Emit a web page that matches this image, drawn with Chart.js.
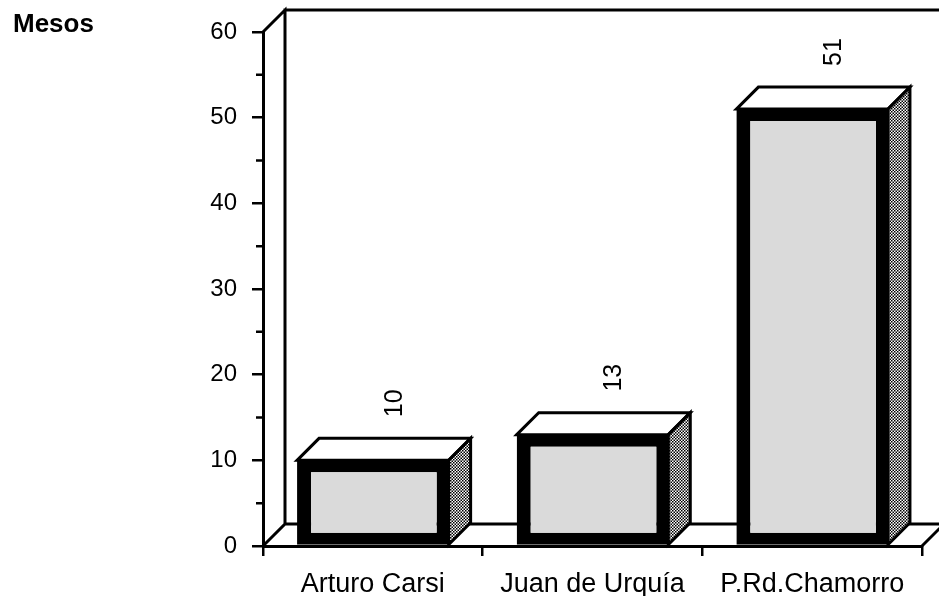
<!DOCTYPE html>
<html>
<head>
<meta charset="utf-8">
<script src="https://cdn.jsdelivr.net/npm/chart.js@4.4.0/dist/chart.umd.min.js"></script>
<style>
  body { margin: 0; background: #fff; }
  canvas { display: block; }
</style>
</head>
<body>
<canvas id="chart" width="939" height="601"></canvas>
<script>
// data
const categories = ["Arturo Carsi", "Juan de Urquía", "P.Rd.Chamorro"];
const meses = [10, 13, 51];
const yMin = 0;
const yMax = 60;
const yStep = 10;
const axisTitle = "Mesos";

const DEPTH = 22; // 3d offset of back wall / bar depth
const FONT = "'Liberation Sans', Arial, sans-serif";

// checker pattern for the bar side faces
function makeDots() {
  const c = document.createElement("canvas");
  c.width = 3;
  c.height = 3;
  const g = c.getContext("2d");
  g.fillStyle = "#fff";
  g.fillRect(0, 0, 3, 3);
  g.fillStyle = "#000";
  g.fillRect(0, 0, 1.5, 1.5);
  g.fillRect(1.5, 1.5, 1.5, 1.5);
  return g.createPattern(c, "repeat");
}

const frame3d = {
  id: "frame3d",
  beforeDatasetsDraw(chart) {
    const { ctx, chartArea: a } = chart;
    const d = DEPTH;
    ctx.save();
    ctx.strokeStyle = "#000";
    ctx.lineWidth = 3;
    ctx.lineCap = "square";
    ctx.beginPath();
    // left wall
    ctx.moveTo(a.left, a.top);
    ctx.lineTo(a.left + d, a.top - d);
    ctx.lineTo(a.left + d, a.bottom - d);
    ctx.moveTo(a.left + d, a.top - d);
    ctx.lineTo(chart.width + 5, a.top - d);
    // floor
    ctx.moveTo(a.left, a.bottom);
    ctx.lineTo(a.left + d, a.bottom - d);
    ctx.lineTo(a.right + d, a.bottom - d);
    ctx.moveTo(a.right, a.bottom);
    ctx.lineTo(a.right + d, a.bottom - d);
    ctx.stroke();

    // minor ticks on the y axis
    const y = chart.scales.y;
    ctx.lineWidth = 2.5;
    ctx.lineCap = "butt";
    ctx.beginPath();
    for (let v = yMin + yStep / 2; v < yMax; v += yStep) {
      const py = y.getPixelForValue(v);
      ctx.moveTo(a.left - 7, py);
      ctx.lineTo(a.left, py);
    }
    ctx.stroke();

    // axis title
    ctx.fillStyle = "#000";
    ctx.font = "bold 26px " + FONT;
    ctx.textBaseline = "alphabetic";
    ctx.fillText(axisTitle, 13, 32);
    ctx.restore();
  },
  afterDatasetsDraw(chart) {
    const { ctx } = chart;
    const d = DEPTH;
    const dots = makeDots();
    const meta = chart.getDatasetMeta(0);
    ctx.save();
    ctx.strokeStyle = "#000";
    ctx.lineWidth = 3;
    ctx.lineJoin = "miter";
    meta.data.forEach((bar, i) => {
      const x0 = bar.x - bar.width / 2;
      const x1 = bar.x + bar.width / 2;
      const top = bar.y;
      const bot = bar.base;
      // top face
      ctx.beginPath();
      ctx.moveTo(x0, top);
      ctx.lineTo(x0 + d, top - d);
      ctx.lineTo(x1 + d, top - d);
      ctx.lineTo(x1, top);
      ctx.closePath();
      ctx.fillStyle = "#fff";
      ctx.fill();
      ctx.stroke();
      // side face
      ctx.beginPath();
      ctx.moveTo(x1, top);
      ctx.lineTo(x1 + d, top - d);
      ctx.lineTo(x1 + d, bot - d);
      ctx.lineTo(x1, bot);
      ctx.closePath();
      ctx.fillStyle = dots;
      ctx.fill();
      ctx.stroke();
      // value label, rotated
      ctx.save();
      ctx.translate(bar.x + d, top - d - 35);
      ctx.rotate(-Math.PI / 2);
      ctx.fillStyle = "#000";
      ctx.font = "25px " + FONT;
      ctx.textAlign = "center";
      ctx.textBaseline = "middle";
      ctx.fillText(String(meses[i]), 0, 0);
      ctx.restore();
    });
    ctx.restore();
  }
};

const ctx = document.getElementById("chart").getContext("2d");
const chart = new Chart(ctx, {
  type: "bar",
  data: {
    labels: categories,
    datasets: [
      {
        label: axisTitle,
        data: meses,
        backgroundColor: "#dadada",
        borderColor: "#000",
        borderWidth: { left: 14, right: 12, top: 12, bottom: 12 },
        borderSkipped: false,
        categoryPercentage: 1,
        barPercentage: 0.69,
      },
    ],
  },
  options: {
    responsive: false,
    animation: false,
    layout: { padding: { left: 183, top: 32, right: 17, bottom: 5 } },
    plugins: {
      legend: { display: false },
      tooltip: { enabled: false },
    },
    scales: {
      x: {
        afterFit: (s) => { s.height = 50; },
        grid: {
          drawOnChartArea: false,
          offset: true,
          color: "#000",
          lineWidth: 2.5,
          tickLength: 10,
        },
        border: { color: "#000", width: 3 },
        ticks: {
          color: "#000",
          padding: 12,
          font: { family: FONT, size: 27 },
        },
      },
      y: {
        min: yMin,
        max: yMax,
        afterFit: (s) => { s.width = 80; },
        grid: {
          drawOnChartArea: false,
          color: "#000",
          lineWidth: 2.5,
          tickLength: 11,
        },
        border: { color: "#000", width: 3 },
        ticks: {
          stepSize: yStep,
          color: "#000",
          padding: 15,
          font: { family: FONT, size: 24 },
        },
      },
    },
  },
  plugins: [frame3d],
});
</script>
</body>
</html>
